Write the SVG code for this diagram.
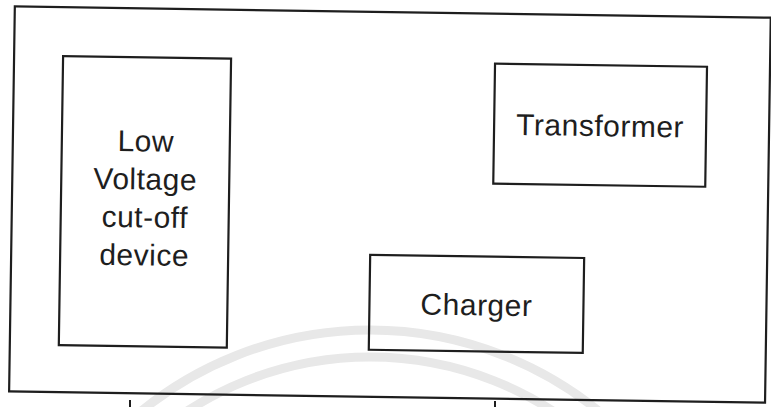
<svg xmlns="http://www.w3.org/2000/svg" width="771" height="407" viewBox="0 0 771 407">
  <style>
    .box { fill: none; stroke: #1e1e1e; stroke-width: 2.2; }
    .label { font-family: "Liberation Sans", Arial, sans-serif; font-size: 30px; letter-spacing: 0.5px; fill: #1e1e1e; text-anchor: middle; }
    .mark { fill: none; stroke: #e8e8e8; stroke-width: 9; }
    .tick { stroke: #1e1e1e; stroke-width: 2; }
  </style>
  <rect width="771" height="407" fill="#ffffff"/>
  <!-- faint circular stamp behind the lower part -->
  <g id="stamp">
    <circle class="mark" cx="370" cy="693" r="363"/>
    <circle class="mark" cx="370" cy="693" r="336"/>
  </g>
  <g transform="rotate(0.85 385 200)">
    <g id="frame">
      <rect class="box" x="12" y="12" width="756" height="385"/>
    </g>
    <g id="node-cutoff">
      <rect class="box" x="61" y="61" width="168" height="289"/>
      <text class="label" x="145" y="155">Low</text>
      <text class="label" x="145" y="193">Voltage</text>
      <text class="label" x="145" y="231">cut-off</text>
      <text class="label" x="145" y="269">device</text>
    </g>
    <g id="node-transformer">
      <rect class="box" x="493" y="62" width="212" height="120"/>
      <text class="label" x="599" y="133">Transformer</text>
    </g>
    <g id="node-charger">
      <rect class="box" x="371" y="255" width="214" height="95"/>
      <text class="label" x="478" y="314">Charger</text>
    </g>
    <g id="connectors"></g>
  </g>
  <line class="tick" x1="130" y1="400" x2="130" y2="407"/>
  <line class="tick" x1="495" y1="401" x2="495" y2="407"/>
</svg>
